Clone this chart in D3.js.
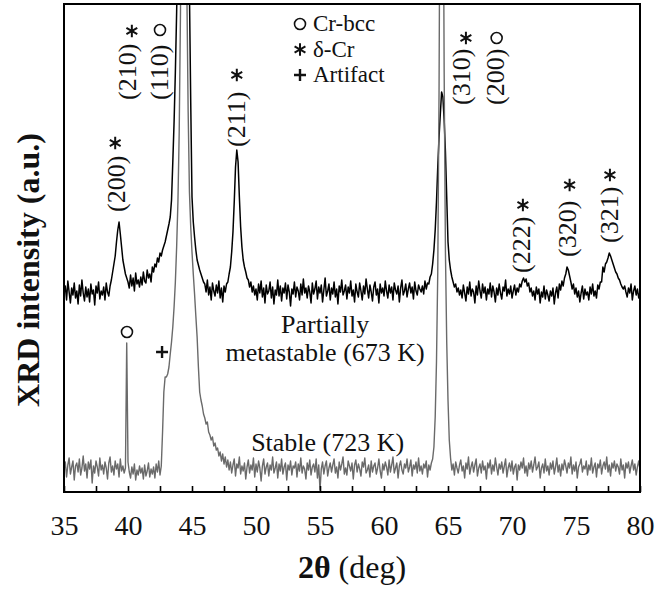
<!DOCTYPE html>
<html>
<head>
<meta charset="utf-8">
<script src="https://cdn.jsdelivr.net/npm/d3@7"></script>
<style>
    body { margin: 0; background: #fff; }
    text { font-family: "Liberation Serif", "Times New Roman", serif; fill: #111; }
</style>
</head>
<body>
<svg id="chart" width="669" height="590"></svg>
<script>
// XRD patterns, 2θ from 35° to 80° in 0.1° steps
const thetaStart = 35;
const thetaStep = 0.1;

const xTicks = [35, 37.5, 40, 42.5, 45, 47.5, 50, 52.5, 55, 57.5, 60, 62.5, 65, 67.5, 70, 72.5, 75, 77.5, 80];
const xTickLabels = [35, 40, 45, 50, 55, 60, 65, 70, 75, 80];

// vertical shift of the upper pattern (a.u.)
const metastableOffset = 170;

// Partially metastable (673 K), black
const metastable = [
    28, 36, 22, 41, 30, 19, 34, 27, 39, 24,
    31, 18, 37, 26, 42, 29, 21, 35, 25, 33,
    20, 38, 28, 32, 17, 36, 29, 40, 23, 31,
    27, 35, 22, 39, 30, 26, 36, 42, 50, 58,
    66, 80, 92, 100, 88, 75, 62, 55, 48, 44,
    40, 34, 47, 36, 44, 31, 49, 38, 42, 35,
    45, 37, 50, 41, 39, 52, 44, 48, 40, 55,
    50, 58, 55, 64, 60, 69, 66, 72, 76, 80,
    86, 92, 98, 105, 122, 160, 200, 250, 310, 380,
    460, 560, 660, 740, 780, 790, 740, 560, 330, 220,
    125, 100, 85, 72, 62, 57, 52, 48, 44, 40,
    38, 30, 42, 27, 35, 22, 39, 31, 26, 37,
    29, 41, 24, 34, 20, 36, 30, 38, 40, 48,
    55, 70, 90, 120, 155, 172, 160, 125, 95, 75,
    62, 55, 50, 44, 42, 35, 40, 30, 36, 27,
    33, 22, 38, 29, 41, 25, 34, 19, 37, 28,
    31, 40, 24, 35, 18, 32, 27, 42, 26, 36,
    21, 34, 29, 39, 23, 37, 30, 16, 33, 28,
    40, 25, 35, 31, 22, 38, 27, 43, 29, 34,
    24, 36, 30, 19, 39, 28, 33, 41, 23, 35,
    29, 37, 20, 32, 44, 26, 31, 38, 22, 34,
    28, 40, 25, 33, 18, 36, 30, 42, 27, 31,
    37, 23, 35, 29, 41, 26, 32, 20, 38, 30,
    25, 39, 31, 22, 36, 28, 43, 33, 24, 37,
    30, 21, 35, 40, 27, 33, 19, 38, 29, 34,
    26, 41, 31, 24, 37, 29, 35, 22, 39, 32,
    28, 36, 20, 34, 42, 27, 31, 38, 25, 33,
    39, 29, 35, 23, 40, 31, 27, 37, 33, 30,
    36, 28, 41, 33, 39, 38, 45, 48, 58, 72,
    92, 120, 155, 185, 208, 230, 225, 202, 170, 125,
    80, 62, 52, 45, 40, 35, 38, 30, 34, 27,
    32, 24, 37, 29, 21, 35, 28, 40, 26, 33,
    30, 19, 36, 27, 41, 31, 24, 38, 29, 35,
    22, 33, 28, 39, 25, 36, 30, 20, 34, 27,
    38, 29, 23, 35, 31, 42, 26, 33, 28, 36,
    24, 31, 37, 27, 34, 30, 38, 35, 41, 44,
    40, 43, 36, 39, 30, 34, 26, 31, 22, 35,
    28, 33, 19, 30, 25, 36, 23, 32, 27, 21,
    31, 26, 34, 18, 29, 35, 24, 38, 32, 41,
    36, 44, 48, 55, 52, 46, 40, 33, 38, 28,
    34, 25, 31, 20, 29, 36, 23, 33, 27, 30,
    22, 35, 28, 38, 26, 31, 24, 37, 33, 40,
    40, 55, 50, 58, 60, 64, 69, 66, 62, 58,
    54, 50, 48, 44, 42, 38, 35, 33, 36, 30,
    25, 34, 29, 38, 22, 31, 36, 27, 33, 24,
    30
];

// Stable (723 K), grey
const stable = [
    22, 30, 15, 27, 34, 18, 25, 31, 12, 26,
    29, 20, 33, 17, 24, 36, 21, 28, 14, 30,
    23, 32, 9, 26, 19, 31, 25, 16, 34, 22,
    27, 18, 30, 24, 13, 29, 35, 20, 26, 17,
    31, 23, 28, 15, 33, 21, 26, 19, 24, 149,
    30, 20, 14, 25, 18, 28, 12, 22, 17, 26,
    19, 24, 13, 27, 16, 21, 29, 15, 23, 18,
    25, 14, 28, 20, 31, 17, 26, 60, 100, 115,
    115, 118, 125, 138, 150, 165, 185, 210, 245, 290,
    360, 480, 700, 860, 900, 860, 500, 380, 300, 265,
    240, 218, 198, 176, 155, 125, 100, 92, 86, 78,
    74, 68, 70, 60, 57, 52, 55, 46, 49, 42,
    44, 36, 40, 31, 38, 28, 35, 25, 32, 22,
    30, 19, 27, 33, 16, 28, 24, 35, 18, 26,
    21, 29, 13, 25, 32, 19, 27, 22, 34, 15,
    28, 20, 31, 24, 11, 26, 33, 18, 25, 29,
    16, 27, 22, 35, 19, 24, 30, 14, 28, 21,
    33, 18, 25, 29, 12, 27, 22, 31, 17, 26,
    24, 30, 15, 28, 21, 34, 19, 26, 23, 13,
    29, 22, 32, 17, 25, 28, 20, 33, 14, 27,
    2, 23, 30, 18, 26, 31, 16, 24, 29, 20,
    27, 33, 19, 25, 14, 30, 22, 28, 35, 18,
    24, 17, 31, 26, 21, 29, 13, 27, 32, 20,
    28, 23, 16, 30, 25, 34, 19, 22, 27, 15,
    31, 20, 26, 29, 18, 24, 33, 21, 14, 28,
    22, 30, 25, 17, 32, 20, 27, 35, 19, 24,
    29, 14, 26, 31, 22, 18, 28, 24, 33, 20,
    25, 32, 16, 27, 23, 30, 19, 34, 21, 26,
    18, 28, 24, 31, 15, 27, 22, 29, 33, 45,
    75, 130, 220, 400, 700, 900, 700, 420, 240, 150,
    92, 52, 34, 22, 28, 17, 30, 24, 19, 27,
    32, 21, 26, 14, 29, 23, 35, 18, 25, 30,
    20, 27, 33, 16, 24, 28, 19, 31, 22, 26,
    13, 29, 24, 32, 18, 27, 21, 34, 25, 17,
    28, 23, 30, 19, 26, 33, 15, 24, 29, 21,
    31, 18, 25, 28, 12, 27, 22, 30, 24, 34,
    19, 26, 16, 29, 23, 31, 20, 27, 35, 22,
    25, 30, 14, 24, 28, 19, 33, 21, 26, 17,
    29, 23, 31, 18, 25, 34, 20, 27, 16, 28,
    22, 32, 26, 19, 29, 24, 35, 18, 27, 21,
    30, 14, 25, 28, 33, 20, 26, 23, 31, 17,
    27, 22, 34, 19, 25, 29, 15, 28, 24, 32,
    18, 26, 30, 23, 35, 20, 27, 16, 29, 24,
    31, 21, 28, 25, 18, 33, 22, 27, 14, 29,
    24, 30, 19, 26, 32, 22, 28, 17, 25, 31,
    23
];

// peak indexing: label, 2θ of label, level of label bottom, marker, 2θ of marker, marker level
const peakLabels = [
    { hkl: '(200)', angle: 39.15, level: 280, mark: 'star',   markAngle: 39.0,  markLevel: 349 },
    { hkl: '(210)', angle: 40.0,  level: 392, mark: 'star',   markAngle: 40.3,  markLevel: 461 },
    { hkl: '(110)', angle: 42.5,  level: 392, mark: 'circle', markAngle: 42.5,  markLevel: 462 },
    { hkl: '(211)', angle: 48.5,  level: 345, mark: 'star',   markAngle: 48.5,  markLevel: 417 },
    { hkl: '(310)', angle: 66.1,  level: 387, mark: 'star',   markAngle: 66.4,  markLevel: 454 },
    { hkl: '(200)', angle: 68.8,  level: 387, mark: 'circle', markAngle: 68.8,  markLevel: 454 },
    { hkl: '(222)', angle: 70.8,  level: 219, mark: 'star',   markAngle: 70.85, markLevel: 287 },
    { hkl: '(320)', angle: 74.4,  level: 235, mark: 'star',   markAngle: 74.5,  markLevel: 307 },
    { hkl: '(321)', angle: 77.65, level: 249, mark: 'star',   markAngle: 77.65, markLevel: 317 }
];

// markers on the stable pattern
const stableMarks = [
    { mark: 'circle', angle: 39.92, level: 160 },
    { mark: 'plus',   angle: 42.66, level: 140 }
];

const legendItems = [
    { mark: 'circle', label: 'Cr-bcc' },
    { mark: 'star',   label: 'δ-Cr' },
    { mark: 'plus',   label: 'Artifact' }
];

const serif = '"Liberation Serif", "Times New Roman", serif';

const margin = { top: 4, right: 29, bottom: 98, left: 64 };
const width = 669 - margin.left - margin.right;
const height = 590 - margin.top - margin.bottom;

const svg = d3.select('#chart');
const g = svg.append('g').attr('transform', `translate(${margin.left},${margin.top})`);

const x = d3.scaleLinear().domain([35, 80]).range([0, width]);
const y = d3.scaleLinear().domain([0, 488]).range([height, 0]);

g.append('clipPath').attr('id', 'plot-clip')
    .append('rect').attr('width', width).attr('height', height);

const line = d3.line()
    .x((d, i) => x(thetaStart + i * thetaStep))
    .y(d => y(d));

const traces = g.append('g').attr('clip-path', 'url(#plot-clip)');

traces.append('path')
    .datum(metastable.map(v => v + metastableOffset))
    .attr('d', line)
    .attr('fill', 'none')
    .attr('stroke', '#000')
    .attr('stroke-width', 1.5)
    .attr('stroke-linejoin', 'round');

traces.append('path')
    .datum(stable)
    .attr('d', line)
    .attr('fill', 'none')
    .attr('stroke', '#6a6a6a')
    .attr('stroke-width', 1.4)
    .attr('stroke-linejoin', 'round');

// x axis, ticks pointing inward
const xAxis = d3.axisBottom(x)
    .tickValues(xTicks)
    .tickSizeInner(-6)
    .tickSizeOuter(0)
    .tickPadding(23)
    .tickFormat(d => xTickLabels.includes(d) ? d : '');

const ax = g.append('g')
    .attr('transform', `translate(0,${height})`)
    .call(xAxis);
ax.select('.domain').remove();
ax.selectAll('.tick line').attr('stroke', '#000').attr('stroke-width', 1.6);
ax.selectAll('.tick text')
    .attr('font-family', serif)
    .attr('font-size', 28)
    .attr('fill', '#111');

// frame
g.append('rect')
    .attr('width', width)
    .attr('height', height)
    .attr('fill', 'none')
    .attr('stroke', '#000')
    .attr('stroke-width', 2);

// markers
function drawMark(sel, type) {
    if (type === 'circle') {
        sel.append('circle').attr('r', 5.5)
            .attr('fill', 'none').attr('stroke', '#111').attr('stroke-width', 1.6);
    } else if (type === 'star') {
        sel.append('path').attr('d', d3.symbol(d3.symbolAsterisk, 110)())
            .attr('fill', 'none').attr('stroke', '#111').attr('stroke-width', 2);
    } else {
        sel.append('path').attr('d', 'M-6,0H6M0,-6V6')
            .attr('fill', 'none').attr('stroke', '#111').attr('stroke-width', 2.4);
    }
}

peakLabels.forEach(p => {
    g.append('text')
        .attr('transform', `translate(${x(p.angle)},${y(p.level)}) rotate(-90)`)
        .attr('dy', '0.3em')
        .attr('font-family', serif)
        .attr('font-size', 26)
        .text(p.hkl);
    drawMark(g.append('g').attr('transform', `translate(${x(p.markAngle)},${y(p.markLevel)})`), p.mark);
});

stableMarks.forEach(m => {
    drawMark(g.append('g').attr('transform', `translate(${x(m.angle)},${y(m.level)})`), m.mark);
});

// legend
const legend = g.append('g').attr('transform', 'translate(236,27)');
legendItems.forEach((item, i) => {
    const row = legend.append('g').attr('transform', `translate(0,${i * 25.5})`);
    drawMark(row.append('g').attr('transform', 'translate(0,-7)'), item.mark);
    row.append('text').attr('x', 13)
        .attr('font-family', serif)
        .attr('font-size', 23)
        .text(item.label);
});

// pattern names
function patternName(angle, top, label) {
    g.append('text').attr('x', x(angle)).attr('y', top).attr('text-anchor', 'middle')
        .attr('font-family', serif).attr('font-size', 26).text(label);
}
patternName(55.4, 329, 'Partially');
patternName(55.4, 357, 'metastable (673 K)');
patternName(55.6, 447, 'Stable (723 K)');

// axis titles
const xTitle = svg.append('text')
    .attr('x', margin.left + width / 2)
    .attr('y', 578)
    .attr('text-anchor', 'middle')
    .attr('font-family', serif)
    .attr('font-size', 32);
xTitle.append('tspan').attr('font-weight', 'bold').text('2θ');
xTitle.append('tspan').text(' (deg)');

svg.append('text')
    .attr('transform', 'translate(29,270) rotate(-90)')
    .attr('text-anchor', 'middle')
    .attr('dy', '0.3em')
    .attr('font-family', serif)
    .attr('font-size', 32)
    .attr('font-weight', 'bold')
    .text('XRD intensity (a.u.)');
</script>
</body>
</html>
